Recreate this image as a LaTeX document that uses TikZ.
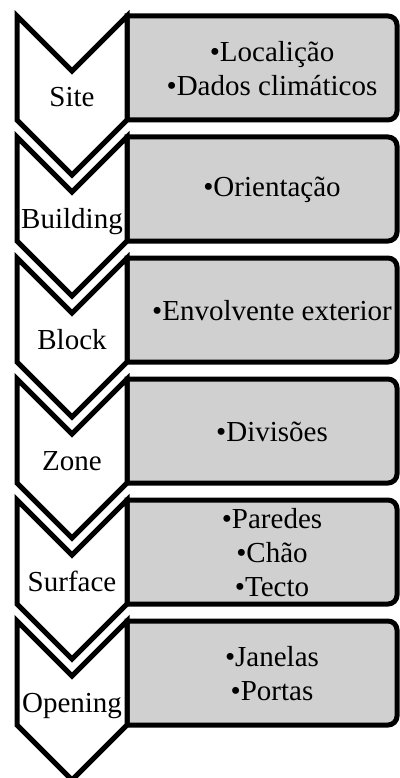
\documentclass[tikz,border=0pt]{standalone}
\usepackage{fontspec}
\setmainfont{Liberation Serif}
\definecolor{boxgray}{RGB}{208,208,208}
\newcommand{\chevrow}[5]{%
  % #1 name, #2 top y, #3 label, #4 items, #5 unused
  \draw[infobox] (127,#2) [rounded corners=9pt] -- (397,#2) -- (397,#2+104) [sharp corners] -- (127,#2+104) -- cycle;
  \draw[chev] (17,#2) -- (72,#2+55) -- (127,#2) -- (127,#2+104) -- (72,#2+159) -- (17,#2+104) -- cycle;
  \node[lab,anchor=base] (#1lab) at (72,#2+91) {#3};
  \node[items] (#1items) at (272,#2+53) {#4};
}
\begin{document}
\begin{tikzpicture}[x=1pt,y=-1pt,
  chev/.style={draw=black,line width=5pt,fill=white,line join=miter},
  infobox/.style={draw=black,line width=5pt,fill=boxgray},
  lab/.style={font=\fontsize{29}{34}\selectfont,inner sep=0pt},
  items/.style={font=\fontsize{29}{34}\selectfont,align=center,inner sep=0pt}]
\useasboundingbox (0,0) rectangle (399,778);
\chevrow{site}{16}{Site}{\textbullet Localição\\\textbullet Dados climáticos}{}
\chevrow{building}{137}{Building}{\textbullet Orientação}{}
\chevrow{block}{258}{Block}{\textbullet Envolvente exterior}{}
\chevrow{zone}{379}{Zone}{\textbullet Divisões}{}
\chevrow{surface}{500}{Surface}{\textbullet Paredes\\\textbullet Chão\\\textbullet Tecto}{}
\chevrow{opening}{621}{Opening}{\textbullet Janelas\\\textbullet Portas}{}
\end{tikzpicture}
\end{document}
